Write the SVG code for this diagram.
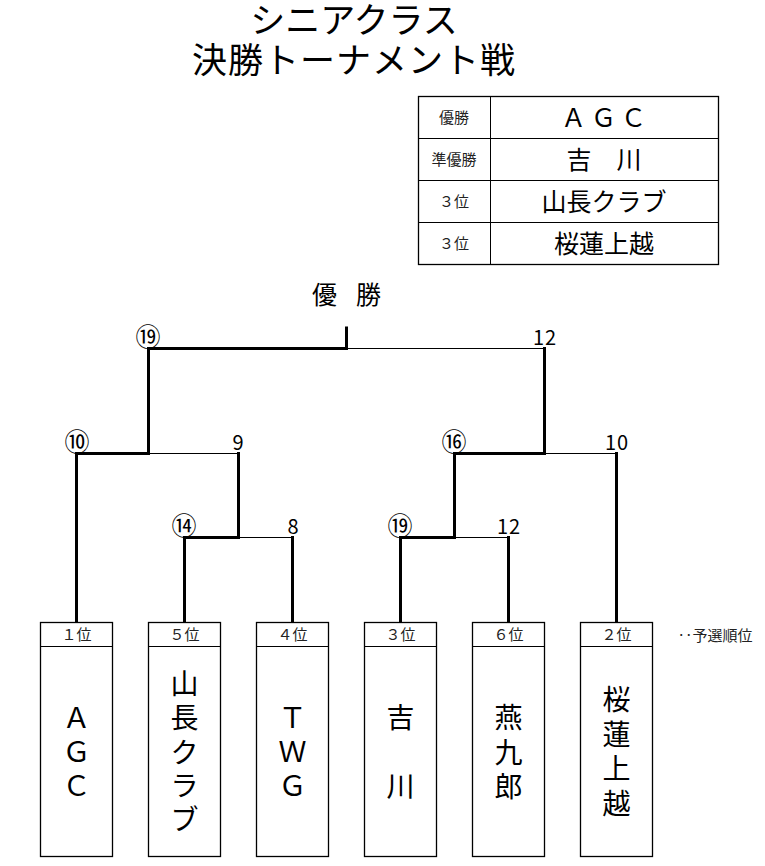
<svg xmlns="http://www.w3.org/2000/svg" width="765" height="866" viewBox="0 0 765 866">
<style>
text{font-family:"Noto Sans CJK JP","Liberation Sans",sans-serif;fill:#000;text-anchor:middle}
.title{font-size:35px}
.lbl{font-size:15px;fill:#222}
.big{font-size:25px}
.num{font-size:20px}
.circ{font-size:25px}
.name{font-size:28px}
.thick{stroke:#000;stroke-width:3;fill:none;stroke-linecap:square}
.thin{stroke:#000;stroke-width:1;fill:none}
.box{fill:#fff;stroke:#000;stroke-width:1.3}
</style>
<rect width="765" height="866" fill="#fff"/>
<g id="title">
<text class="title"><tspan x="354" y="33">シニアクラス</tspan><tspan x="354" y="73" letter-spacing="1">決勝トーナメント戦</tspan></text>
</g>
<g id="results">
<rect class="box" x="418.5" y="96.5" width="300" height="168"/>
<line class="thin" x1="490.5" y1="96.5" x2="490.5" y2="264.5"/>
<line class="thin" x1="418.5" y1="138.5" x2="718.5" y2="138.5"/>
<line class="thin" x1="418.5" y1="180.5" x2="718.5" y2="180.5"/>
<line class="thin" x1="418.5" y1="222.5" x2="718.5" y2="222.5"/>
<text class="lbl" x="454" y="123">優勝</text>
<text class="lbl" x="454" y="165">準優勝</text>
<text class="lbl" x="454" y="207">３位</text>
<text class="lbl" x="454" y="249">３位</text>
<text class="big" x="606" y="127" letter-spacing="5">ＡＧＣ</text>
<text class="big" x="604" y="169">吉　川</text>
<text class="big" x="604" y="211">山長クラブ</text>
<text class="big" x="604" y="253">桜蓮上越</text>
</g>
<g id="champion">
<text x="356" y="304" font-size="25" letter-spacing="19">優勝</text>
</g>
<g id="connectors">
<path class="thick" d="M346.5 328 V348.5 H148.5 V453.5 H76.5 V622"/>
<path class="thin" d="M346.5 348.5 H544.5"/>
<path class="thick" d="M544.5 348.5 V453.5 H454.5 V537.5 H400.5 V622"/>
<path class="thin" d="M148.5 453.5 H238.5"/>
<path class="thick" d="M238.5 453.5 V537.5 H184.5 V622"/>
<path class="thin" d="M238.5 537.5 H292.5"/>
<path class="thick" d="M292.5 537.5 V622"/>
<path class="thin" d="M544.5 453.5 H616.5"/>
<path class="thick" d="M616.5 453.5 V622"/>
<path class="thin" d="M454.5 537.5 H508.5"/>
<path class="thick" d="M508.5 537.5 V622"/>
</g>
<g id="scores">
<text class="circ" x="148" y="346">⑲</text>
<text class="num" x="545" y="345" letter-spacing="1">12</text>
<text class="circ" x="77" y="451">⑩</text>
<text class="num" x="238" y="450">9</text>
<text class="circ" x="454" y="451">⑯</text>
<text class="num" x="617" y="450" letter-spacing="1">10</text>
<text class="circ" x="184" y="535">⑭</text>
<text class="num" x="293" y="534">8</text>
<text class="circ" x="400" y="535">⑲</text>
<text class="num" x="509" y="534" letter-spacing="1">12</text>
</g>
<g id="team1">
<rect class="box" x="40.5" y="622.5" width="72" height="234"/>
<line class="thin" x1="40.5" y1="646.5" x2="112.5" y2="646.5"/>
<text class="lbl" x="76.5" y="640">１位</text>
<text class="name"><tspan x="76.5" y="728">Ａ</tspan><tspan x="76.5" y="762">Ｇ</tspan><tspan x="76.5" y="796">Ｃ</tspan></text>
</g>
<g id="team2">
<rect class="box" x="148.5" y="622.5" width="72" height="234"/>
<line class="thin" x1="148.5" y1="646.5" x2="220.5" y2="646.5"/>
<text class="lbl" x="184.5" y="640">５位</text>
<text class="name"><tspan x="184.5" y="694">山</tspan><tspan x="184.5" y="728">長</tspan><tspan x="184.5" y="763">ク</tspan><tspan x="184.5" y="796">ラ</tspan><tspan x="184.5" y="830">ブ</tspan></text>
</g>
<g id="team3">
<rect class="box" x="256.5" y="622.5" width="72" height="234"/>
<line class="thin" x1="256.5" y1="646.5" x2="328.5" y2="646.5"/>
<text class="lbl" x="292.5" y="640">４位</text>
<text class="name"><tspan x="292.5" y="728">Ｔ</tspan><tspan x="292.5" y="762">Ｗ</tspan><tspan x="292.5" y="796">Ｇ</tspan></text>
</g>
<g id="team4">
<rect class="box" x="364.5" y="622.5" width="72" height="234"/>
<line class="thin" x1="364.5" y1="646.5" x2="436.5" y2="646.5"/>
<text class="lbl" x="400.5" y="640">３位</text>
<text class="name"><tspan x="400.5" y="728">吉</tspan><tspan x="400.5" y="797">川</tspan></text>
</g>
<g id="team5">
<rect class="box" x="472.5" y="622.5" width="72" height="234"/>
<line class="thin" x1="472.5" y1="646.5" x2="544.5" y2="646.5"/>
<text class="lbl" x="508.5" y="640">６位</text>
<text class="name"><tspan x="508.5" y="728">燕</tspan><tspan x="508.5" y="763">九</tspan><tspan x="508.5" y="797">郎</tspan></text>
</g>
<g id="team6">
<rect class="box" x="580.5" y="622.5" width="72" height="234"/>
<line class="thin" x1="580.5" y1="646.5" x2="652.5" y2="646.5"/>
<text class="lbl" x="616.5" y="640">２位</text>
<text class="name"><tspan x="616.5" y="710">桜</tspan><tspan x="616.5" y="745">蓮</tspan><tspan x="616.5" y="779">上</tspan><tspan x="616.5" y="814">越</tspan></text>
</g>
<g id="note">
<text class="lbl" x="715" y="641">‥予選順位</text>
</g>
</svg>
